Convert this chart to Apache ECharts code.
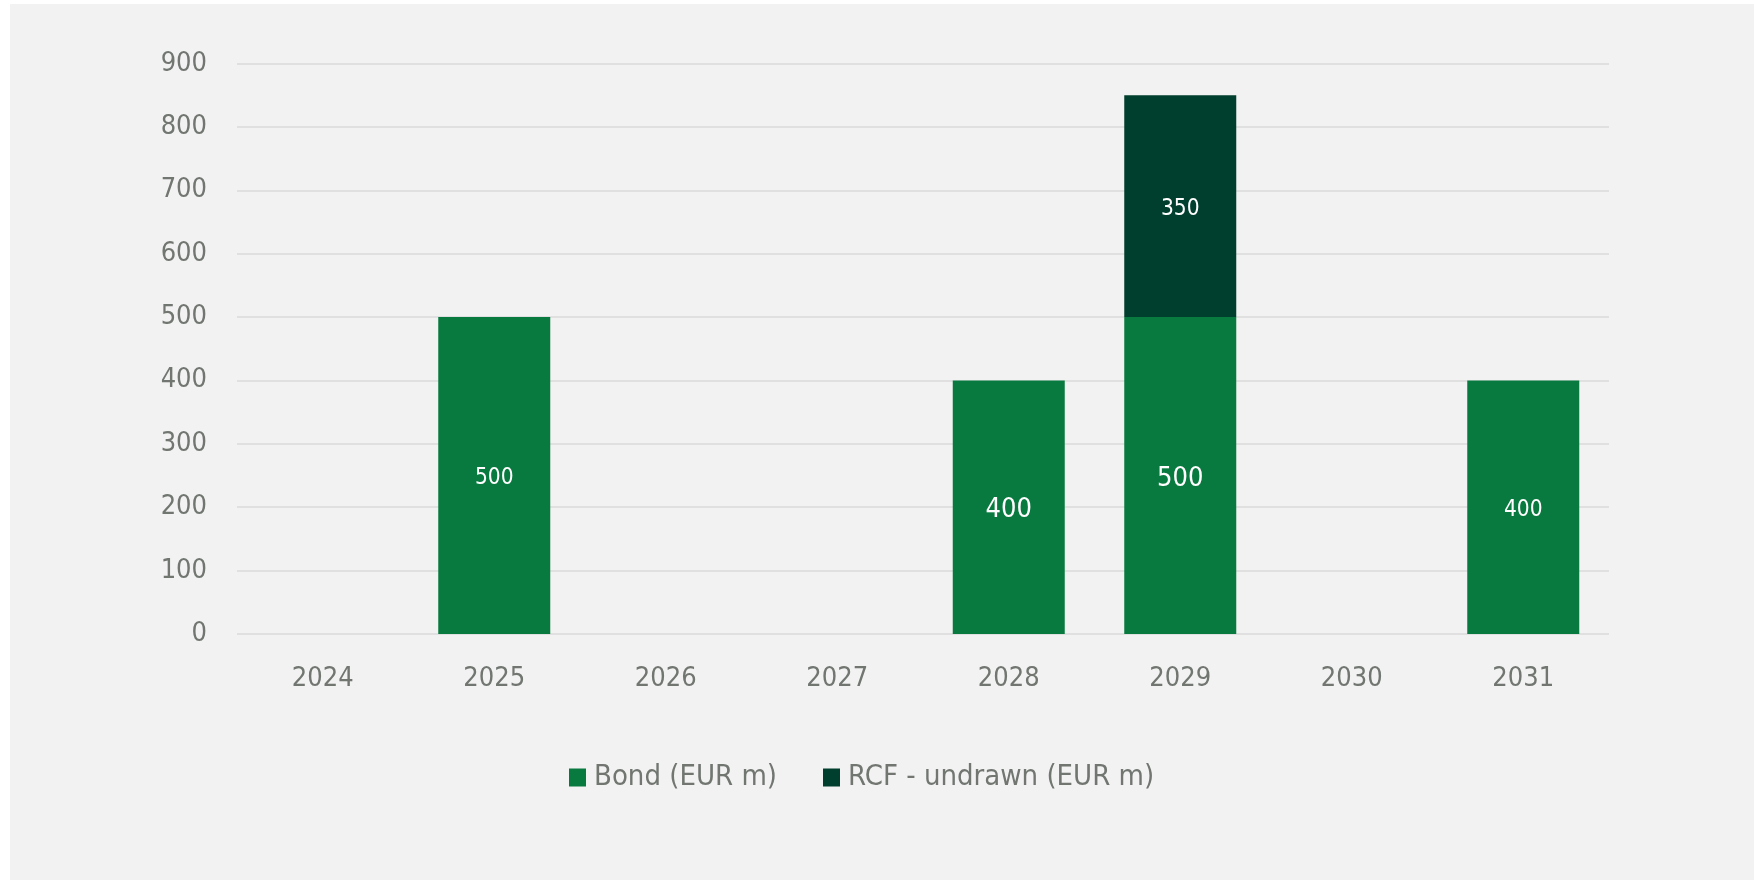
<!DOCTYPE html>
<html>
<head>
<meta charset="utf-8">
<script src="https://cdn.jsdelivr.net/npm/echarts@6/dist/echarts.min.js"></script>
<style>
  html, body { margin: 0; padding: 0; background: #ffffff; }
  #panel { position: absolute; left: 10px; top: 4px; width: 1744px; height: 876px; background: #f2f2f2; }
  #chart { position: absolute; left: 0; top: 0; width: 1754px; height: 880px; }
</style>
</head>
<body>
<div id="panel"></div>
<div id="chart"></div>
<script>
const categories = ['2024', '2025', '2026', '2027', '2028', '2029', '2030', '2031'];
const bondValues = [null, 500, null, null, 400, 500, null, 400];
const rcfValues = [null, null, null, null, null, 350, null, null];
const seriesNames = ['Bond (EUR m)', 'RCF - undrawn (EUR m)'];
const yTicks = { min: 0, max: 900, interval: 100 };

const FONT = "'DejaVu Sans Condensed', 'Liberation Sans', sans-serif";
const GREY = '#717671';
const bigLabelYears = ['2028', '2029'];

const chart = echarts.init(document.getElementById('chart'), null, { renderer: 'canvas' });

function labelFor(bigSet) {
  return {
    show: true,
    position: 'inside',
    offset: [0, 3],
    color: '#ffffff',
    fontFamily: FONT,
    formatter: p => (p.value == null ? '' : (bigSet.includes(p.name) ? '{b|' : '{s|') + p.value + '}'),
    rich: {
      s: { fontSize: 22.5, color: '#ffffff', fontFamily: FONT },
      b: { fontSize: 27, color: '#ffffff', fontFamily: FONT }
    }
  };
}

chart.setOption({
  backgroundColor: 'transparent',
  animation: false,
  grid: { left: 237, right: 145, top: 63.5, bottom: 246, containLabel: false },
  legend: {
    left: 564,
    top: 758,
    itemWidth: 17,
    itemHeight: 18,
    itemGap: 46,
    icon: 'rect',
    textStyle: { fontFamily: FONT, fontSize: 29, color: GREY, padding: [0, 0, 0, 3] },
    data: seriesNames
  },
  xAxis: {
    type: 'category',
    data: categories,
    axisLine: { show: false },
    axisTick: { show: false },
    axisLabel: { fontFamily: FONT, fontSize: 27, color: GREY, margin: 31 }
  },
  yAxis: {
    type: 'value',
    min: yTicks.min,
    max: yTicks.max,
    interval: yTicks.interval,
    axisLine: { show: false },
    axisTick: { show: false },
    axisLabel: { fontFamily: FONT, fontSize: 27, color: GREY, margin: 30, padding: [11, 0, 0, 0] },
    splitLine: { lineStyle: { color: '#dadada', width: 1.5 } }
  },
  series: [
    {
      name: seriesNames[0],
      type: 'bar',
      stack: 'total',
      barWidth: 112,
      data: bondValues,
      itemStyle: { color: '#087a3f' },
      label: labelFor(bigLabelYears)
    },
    {
      name: seriesNames[1],
      type: 'bar',
      stack: 'total',
      barWidth: 112,
      data: rcfValues,
      itemStyle: { color: '#003f2e' },
      label: labelFor([])
    }
  ]
});
</script>
</body>
</html>
